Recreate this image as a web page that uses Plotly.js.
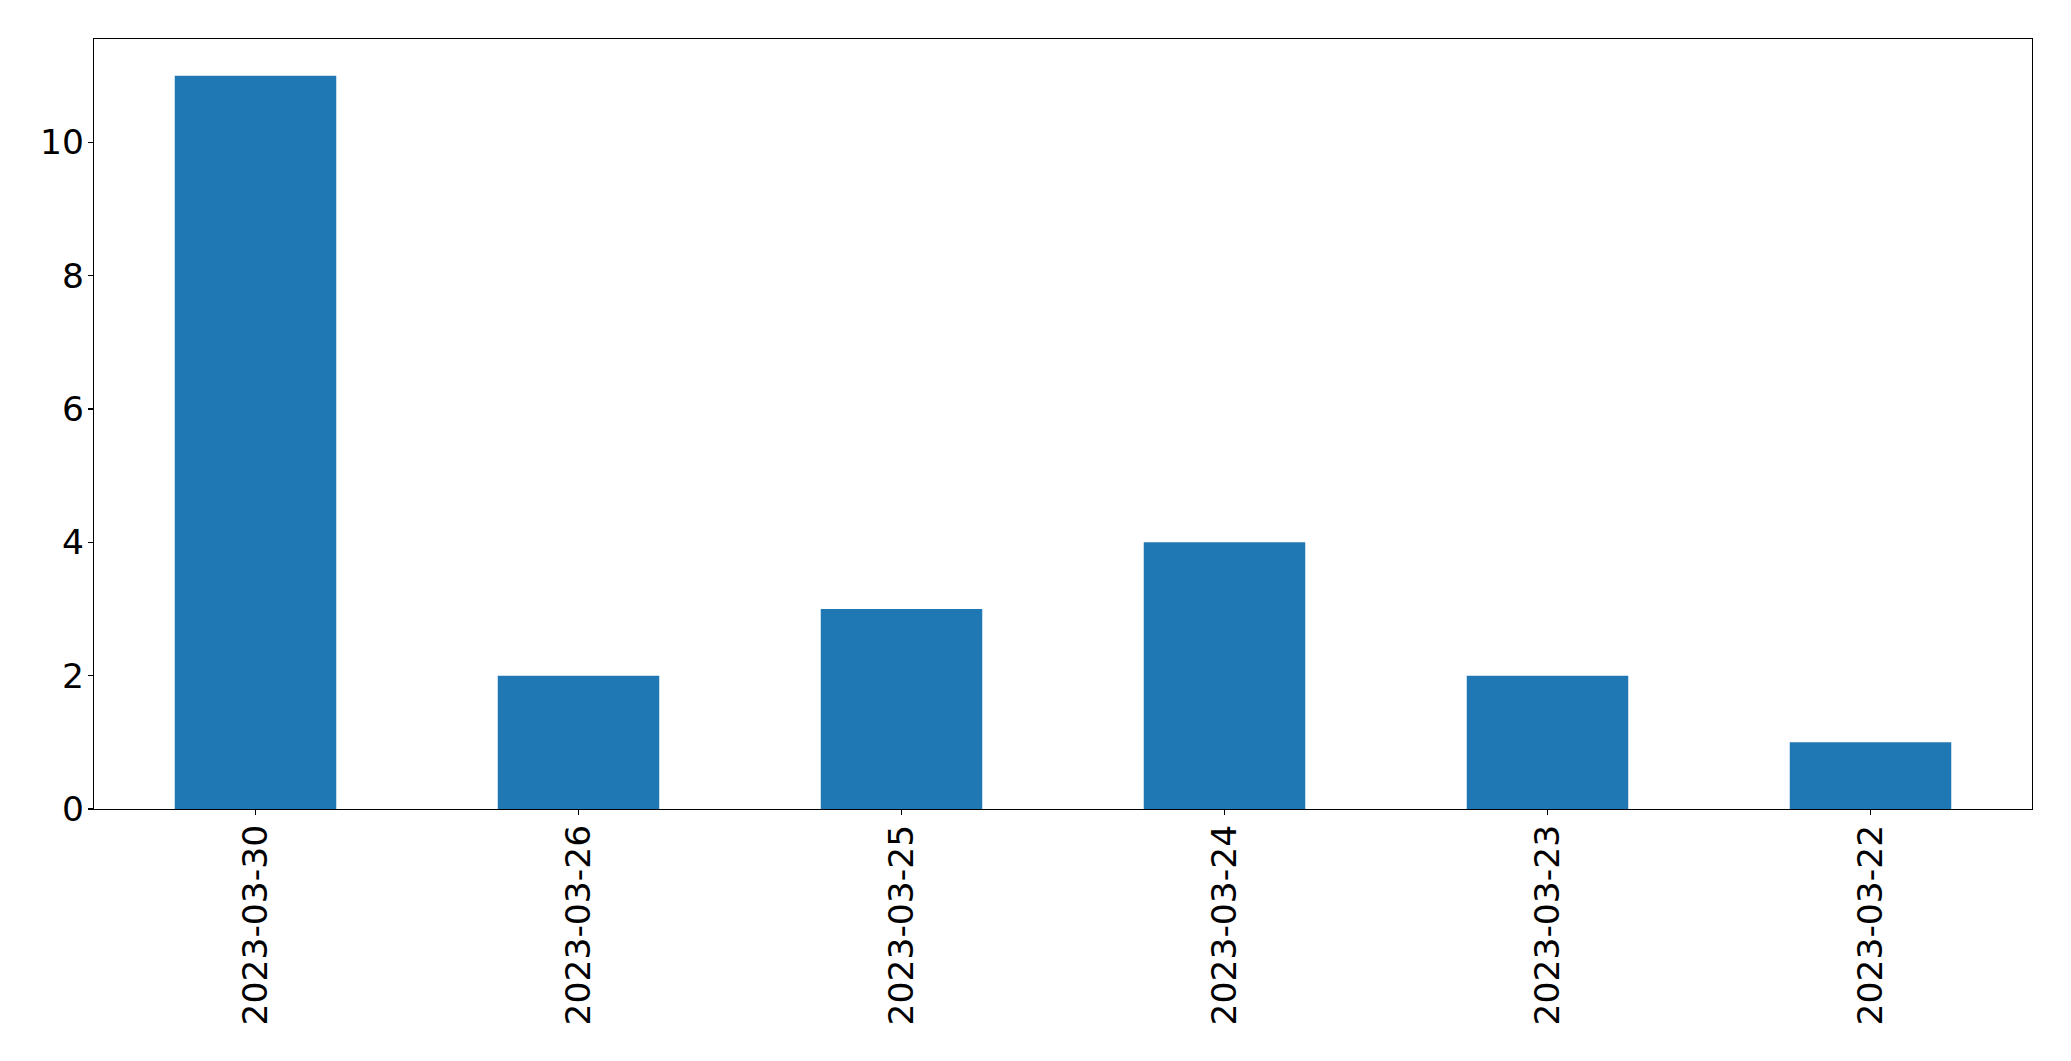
<!DOCTYPE html>
<html>
<head>
<meta charset="utf-8">
<script src="https://cdn.plot.ly/plotly-3.0.1.min.js"></script>
<style>html,body{margin:0;padding:0;background:#fff;}#chart{width:2071px;height:1061px;}</style>
</head>
<body>
<div id="chart"></div>
<script>
var categories = ["2023-03-30", "2023-03-26", "2023-03-25", "2023-03-24", "2023-03-23", "2023-03-22"];
var counts = [11, 2, 3, 4, 2, 1];
var yTicks = [0, 2, 4, 6, 8, 10];

var trace = {
  type: 'bar',
  x: categories,
  y: counts,
  width: 0.5,
  marker: {color: '#1f77b4', line: {width: 0}},
  hoverinfo: 'x+y'
};

var layout = {
  width: 2071,
  height: 1061,
  margin: {l: 94, r: 39, t: 39, b: 252, pad: 0},
  paper_bgcolor: '#ffffff',
  plot_bgcolor: '#ffffff',
  showlegend: false,
  font: {family: 'DejaVu Sans', size: 34.5, color: '#000000'},
  xaxis: {
    type: 'category',
    range: [-0.5, 5.5],
    tickangle: -90,
    ticks: 'outside',
    ticklen: 5,
    tickwidth: 1.1,
    tickcolor: '#000',
    showline: true,
    linecolor: '#000',
    linewidth: 1.1,
    mirror: true,
    showgrid: false,
    zeroline: false,
    tickfont: {family: 'DejaVu Sans', size: 34.5, color: '#000'},
    ticklabelstandoff: -4
  },
  yaxis: {
    range: [0, 11.55],
    tickvals: yTicks,
    ticktext: yTicks.map(String),
    ticks: 'outside',
    ticklen: 5,
    tickwidth: 1.1,
    tickcolor: '#000',
    showline: true,
    linecolor: '#000',
    linewidth: 1.1,
    mirror: true,
    showgrid: false,
    zeroline: false,
    tickfont: {family: 'DejaVu Sans', size: 34.5, color: '#000'},
    ticklabelstandoff: -3
  }
};

Plotly.newPlot('chart', [trace], layout, {displayModeBar: false, staticPlot: true});
</script>
</body>
</html>
